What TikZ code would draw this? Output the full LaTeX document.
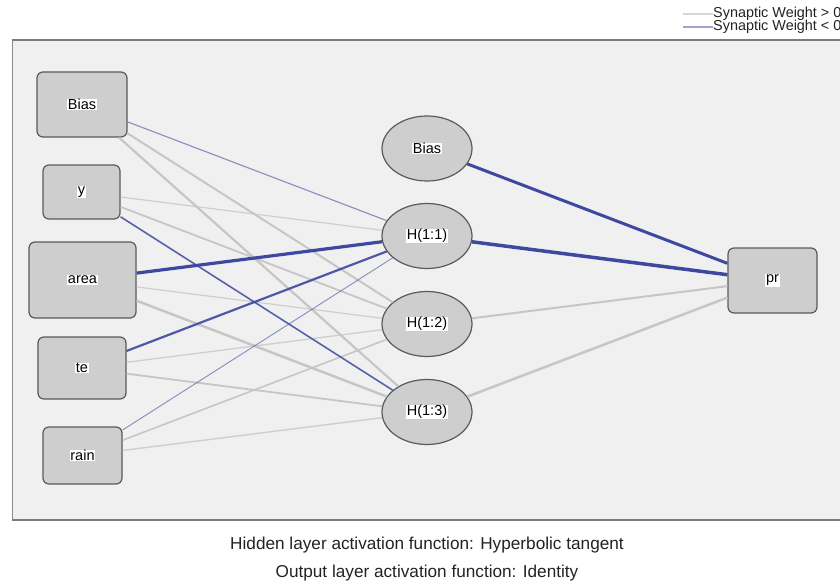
\documentclass[tikz,border=0pt]{standalone}
\usepackage{fontspec}
\setmainfont{Liberation Sans}
\usepackage{tikz}
\usetikzlibrary{arrows,shapes,positioning,fit}

\definecolor{panelgray}{RGB}{240,240,240}
\definecolor{nodegray}{RGB}{206,206,206}
\definecolor{nodeline}{RGB}{90,90,90}
\definecolor{poscol}{RGB}{198,198,198}
\definecolor{negcol}{RGB}{62,72,160}
\definecolor{txtcol}{RGB}{35,35,35}

\tikzset{
  lbl/.style={fill=white, inner sep=0.6pt, text=black, font=\fontsize{14.5}{16}\selectfont},
  inbox/.style={rectangle, rounded corners=6pt, draw=nodeline, line width=1.2pt, fill=nodegray},
  hidnode/.style={ellipse, draw=nodeline, line width=1.2pt, fill=nodegray, minimum width=90pt, minimum height=65pt, inner sep=0pt},
  wpos/.style={draw=poscol},
  wneg/.style={draw=negcol}
}

\begin{document}
\begin{tikzpicture}[x=1pt,y=-1pt]
        \useasboundingbox (0,0) rectangle (840,583);
        \clip (0,0) rectangle (840,583);
        % panel
        \fill[panelgray] (12,40) rectangle (850,520);
        \draw[nodeline!70, line width=0.8pt] (12,40) -- (12,520);
        \draw[nodeline!80, line width=1.6pt] (12,40) -- (850,40);
        \draw[nodeline!80, line width=1.6pt] (12,520) -- (850,520);
        % input layer
        \node[inbox, minimum width=90pt, minimum height=65pt] at (82,104.5) (xb) {};
        \node[inbox, minimum width=77pt, minimum height=54pt] at (81.5,192) (xy) {};
        \node[inbox, minimum width=107pt, minimum height=76pt] at (82.5,280) (xarea) {};
        \node[inbox, minimum width=88pt, minimum height=62pt] at (82,368) (xte) {};
        \node[inbox, minimum width=79pt, minimum height=57pt] at (82.5,455.5) (xrain) {};
        % hidden layer
        \node[hidnode] at (427,148.5) (hb) {};
        \node[hidnode] at (427,236) (h1) {};
        \node[hidnode] at (427,324) (h2) {};
        \node[hidnode] at (427,412) (h3) {};
        % output layer
        \node[inbox, minimum width=89pt, minimum height=65pt] at (772.5,280.5) (ypr) {};
        % positive weights
        \draw[wpos, line width=2pt] (xb) -- (h2);
        \draw[wpos, line width=2.2pt] (xb) -- (h3);
        \draw[wpos, line width=1.2pt, opacity=0.8] (xy) -- (h1);
        \draw[wpos, line width=1.8pt] (xy) -- (h2);
        \draw[wpos, line width=1.2pt, opacity=0.8] (xarea) -- (h2);
        \draw[wpos, line width=2.5pt] (xarea) -- (h3);
        \draw[wpos, line width=1.3pt, opacity=0.8] (xte) -- (h2);
        \draw[wpos, line width=1.8pt] (xte) -- (h3);
        \draw[wpos, line width=1.6pt] (xrain) -- (h2);
        \draw[wpos, line width=1.4pt, opacity=0.8] (xrain) -- (h3);
        \draw[wpos, line width=2pt] (h2) -- (ypr);
        \draw[wpos, line width=2.5pt] (h3) -- (ypr);
        % negative weights
        \draw[wneg, line width=1.2pt, opacity=0.55] (xb) -- (h1);
        \draw[wneg, line width=1.6pt, opacity=0.85] (xy) -- (h3);
        \draw[wneg, line width=3.2pt] (xarea) -- (h1);
        \draw[wneg, line width=2.2pt, opacity=0.9] (xte) -- (h1);
        \draw[wneg, line width=1pt, opacity=0.55] (xrain) -- (h1);
        \draw[wneg, line width=3pt] (hb) -- (ypr);
        \draw[wneg, line width=3.5pt] (h1) -- (ypr);
        % labels
        \node[lbl] at (xb) {Bias};
        \node[lbl] at (xy) {y};
        \node[lbl] at (xarea) {area};
        \node[lbl] at (xte) {te};
        \node[lbl] at (xrain) {rain};
        \node[lbl] at (hb) {Bias};
        \node[lbl] at (h1) {H(1:1)};
        \node[lbl] at (h2) {H(1:2)};
        \node[lbl] at (h3) {H(1:3)};
        \node[lbl] at (ypr) {pr};
        % legend
        \node[anchor=west, inner sep=0pt, text=txtcol, font=\fontsize{14.4}{16}\selectfont] at (713,14) (legpos) {Synaptic Weight > 0};
        \node[anchor=west, inner sep=0pt, text=txtcol, font=\fontsize{14.4}{16}\selectfont] at (713,27) (legneg) {Synaptic Weight < 0};
        \coordinate (lpstart) at (683,14);
        \coordinate (lnstart) at (683,27);
        \draw[wpos, line width=1.2pt, opacity=0.7] (lpstart) -- (legpos.west);
        \draw[wneg, line width=1.2pt, opacity=0.5] (lnstart) -- (legneg.west);
        % activation functions
        \node[text=txtcol, font=\fontsize{17.2}{19}\selectfont] at (427,545) (hidact) {Hidden layer activation function: Hyperbolic tangent};
        \node[below=5pt of hidact, text=txtcol, font=\fontsize{17.2}{19}\selectfont] (outact) {Output layer activation function: Identity};
      \end{tikzpicture}
\end{document}
